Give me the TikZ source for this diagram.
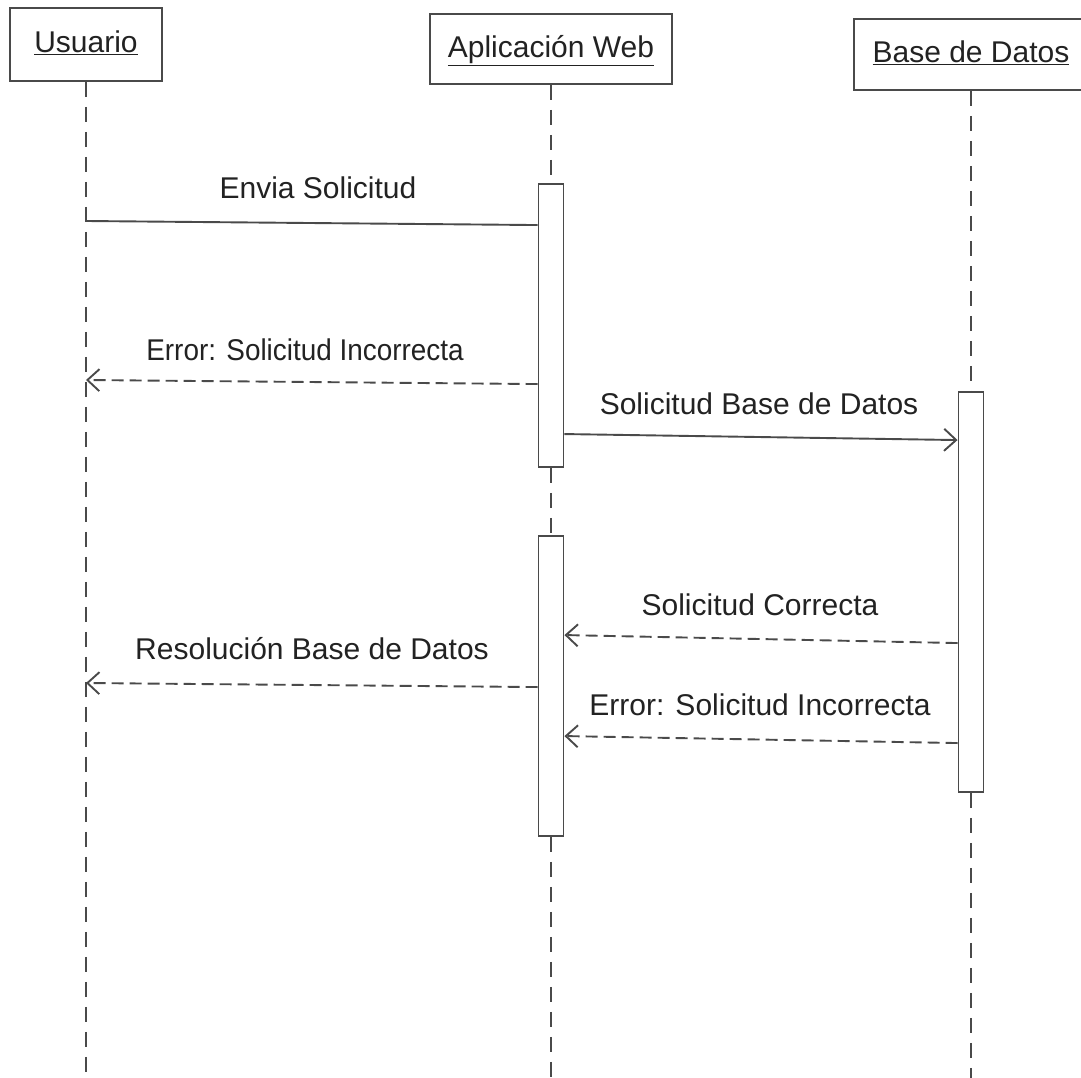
\documentclass[tikz,border=0pt]{standalone}
\usepackage{fontspec}
\setmainfont{Liberation Sans}
\usetikzlibrary{arrows.meta}
\definecolor{linegray}{HTML}{4A4A4A}
\definecolor{txt}{HTML}{222222}
\begin{document}
\begin{tikzpicture}[x=1pt,y=-1pt,
  line/.style={draw=linegray, line width=1.9pt},
  actor/.style={line, fill=white, text height=22pt, text depth=5pt, inner sep=0pt,
    font=\fontsize{30}{36}\selectfont, text=txt},
  bar/.style={line, fill=white, minimum width=25pt, inner sep=0pt},
  life/.style={line, dash pattern=on 15pt off 10pt},
  msg/.style={line},
  reply/.style={line, dash pattern=on 12pt off 6pt},
  tip/.style={-{Straight Barb[length=12pt,width=22pt]}},
  lbl/.style={font=\fontsize{30}{36}\selectfont, text=txt, anchor=base, inner sep=0pt}]
\useasboundingbox (0,0) rectangle (1081,1078);

% participants
\node[actor, minimum width=152pt, minimum height=73pt] (usr) at (86,44.5) {\underline{Usuario}};
\node[actor, minimum width=242pt, minimum height=70pt] (app) at (551,49) {\underline{Aplicación Web}};
\node[actor, minimum width=234pt, minimum height=71pt] (db) at (971,54.5) {\underline{Base de Datos}};

% activation bars
\node[bar, minimum height=283pt] (a1) at (551,325.5) {};
\node[bar, minimum height=300pt] (a2) at (551,686) {};
\node[bar, minimum height=400pt] (d1) at (971,592) {};

% lifeline ends
\coordinate (uend) at (86,1078);
\coordinate (aend) at (551,1078);
\coordinate (dend) at (971,1078);

% lifelines
\draw[life] (usr.south) -- (uend);
\draw[life] (app.south) -- (a1.north);
\draw[life] (a1.south) -- (a2.north);
\draw[life] (a2.south) -- (aend);
\draw[life] (db.south) -- (d1.north);
\draw[life] (d1.south) -- (dend);

% points on the user lifeline
\coordinate (u1) at (86,221);
\coordinate (u2) at (86,380);
\coordinate (u3) at (86,683);

% messages
\draw[msg] (u1) -- ([yshift=-42pt]a1.north west);
\node[lbl] (l1) at (318,199) {Envia Solicitud};

\draw[reply, tip] ([yshift=-201pt]a1.north west) -- (u2);
\node[lbl, xscale=0.93] (l2) at (305,360) {Error: Solicitud Incorrecta};

\draw[msg, tip] ([yshift=-251pt]a1.north east) -- ([yshift=-49pt]d1.north west);
\node[lbl] (l3) at (759,414) {Solicitud Base de Datos};

\draw[reply, tip] ([yshift=-252pt]d1.north west) -- ([yshift=-100pt]a2.north east);
\node[lbl] (l4) at (760,615) {Solicitud Correcta};

\draw[reply, tip] ([yshift=-152pt]a2.north west) -- (u3);
\node[lbl] (l5) at (312,659) {Resolución Base de Datos};

\draw[reply, tip] ([yshift=-352pt]d1.north west) -- ([yshift=-201pt]a2.north east);
\node[lbl] (l6) at (760,715) {Error: Solicitud Incorrecta};
\end{tikzpicture}
\end{document}
